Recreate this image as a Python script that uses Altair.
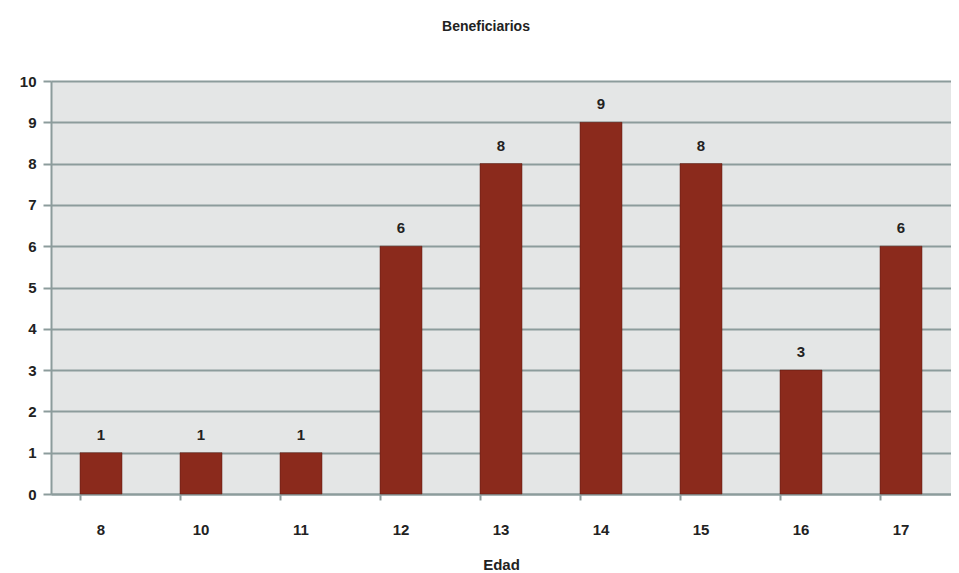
import altair as alt
import pandas as pd

edades = ["8", "10", "11", "12", "13", "14", "15", "16", "17"]
beneficiarios = [1, 1, 1, 6, 8, 9, 8, 3, 6]

df = pd.DataFrame({"Edad": edades, "Beneficiarios": beneficiarios})

FONT = "Liberation Sans"
GRID = "#8c9c9c"

base = alt.Chart(df).encode(
    x=alt.X(
        "Edad:N",
        sort=edades,
        title="Edad",
        scale=alt.Scale(paddingInner=0.58, paddingOuter=0.29),
        axis=alt.Axis(
            labelAngle=0,
            labelFont=FONT,
            labelFontSize=15,
            labelFontWeight="bold",
            labelColor="#222222",
            labelPadding=22,
            titleFont=FONT,
            titleFontSize=15,
            titleFontWeight="bold",
            titleColor="#222222",
            titlePadding=20,
            domainColor=GRID,
            domainWidth=2,
            tickColor=GRID,
            tickWidth=2,
            tickSize=6,
            bandPosition=0,
            grid=False,
        ),
    ),
    y=alt.Y(
        "Beneficiarios:Q",
        title=None,
        scale=alt.Scale(domain=[0, 10], nice=False),
        axis=alt.Axis(
            values=list(range(0, 11)),
            labelFont=FONT,
            labelFontSize=15,
            labelFontWeight="bold",
            labelColor="#222222",
            labelPadding=7,
            domainColor=GRID,
            domainWidth=2,
            tickColor=GRID,
            tickWidth=2,
            tickSize=8,
            gridColor=GRID,
            gridWidth=2,
            gridOpacity=1,
        ),
    ),
)

bars = base.mark_bar(color="#8b2a1c", stroke="#5a1a10", strokeWidth=0.5)
labels = base.mark_text(
    baseline="bottom", dy=-10, font=FONT, fontSize=15, fontWeight="bold", color="#222222"
).encode(text="Beneficiarios:Q")

chart = (
    (bars + labels)
    .properties(
        width=900,
        height=413,
        padding={"left": 11, "top": 12, "right": 0, "bottom": 0},
        title=alt.TitleParams(
            "Beneficiarios", font=FONT, fontSize=14, fontWeight="bold", color="#222222",
            offset=40, dx=-15
        ),
    )
    .configure_view(fill="#e4e6e6", stroke=None)
)

chart.save("out.html", embed_options={"renderer": "svg", "actions": False})
